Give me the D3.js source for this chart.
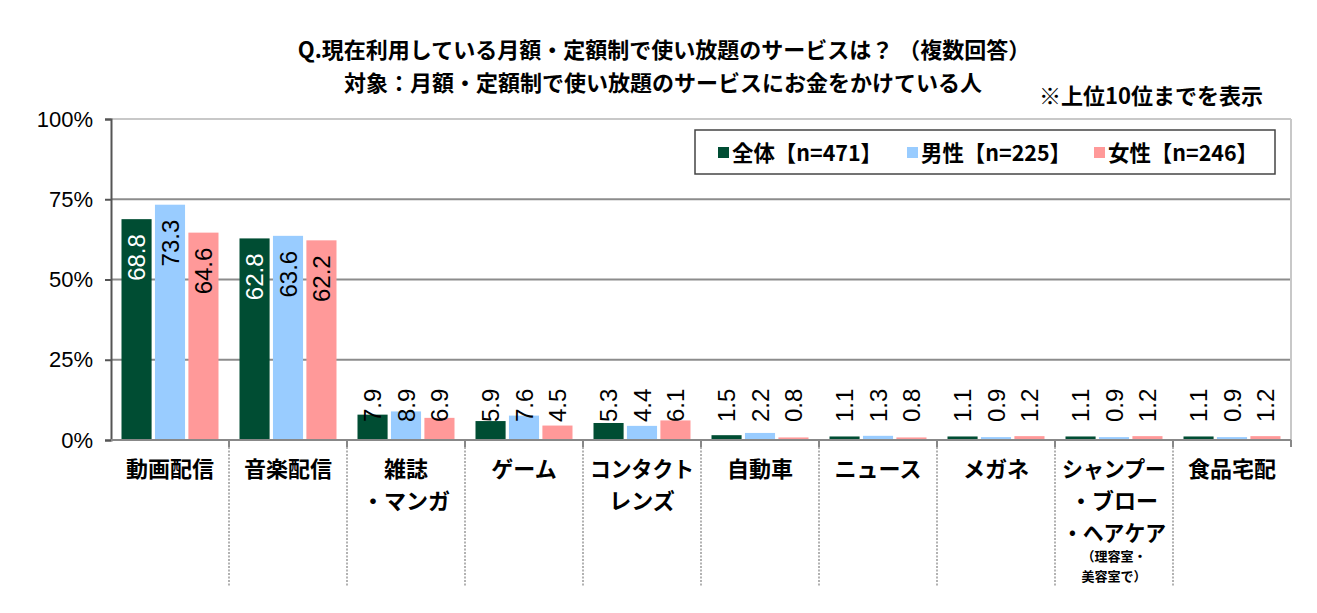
<!DOCTYPE html>
<html>
<head>
<meta charset="utf-8">
<script src="https://cdn.jsdelivr.net/npm/d3@7"></script>
<style>
  body { margin: 0; background: #fff; }
  svg { display: block; }
</style>
</head>
<body>
<svg id="chart"></svg>
<script>
// Data
const categories = ["動画配信", "音楽配信", "雑誌\n・マンガ", "ゲーム", "コンタクト\nレンズ",
  "自動車", "ニュース", "メガネ", "シャンプー\n・ブロー\n・ヘアケア", "食品宅配"];
const categoryNotes = ["", "", "", "", "", "", "", "", "（理容室・\n美容室で）", ""];
const seriesNames = ["全体【n=471】", "男性【n=225】", "女性【n=246】"];
const totalValues = [68.8, 62.8, 7.9, 5.9, 5.3, 1.5, 1.1, 1.1, 1.1, 1.1];
const maleValues = [73.3, 63.6, 8.9, 7.6, 4.4, 2.2, 1.3, 0.9, 0.9, 0.9];
const femaleValues = [64.6, 62.2, 6.9, 4.5, 6.1, 0.8, 0.8, 1.2, 1.2, 1.2];
const yTicks = [0, 25, 50, 75, 100];

const colors = ["#004d33", "#99ccff", "#ff9999"];
const jp = "'Noto Sans CJK JP', sans-serif";
const num = "'Liberation Sans', Arial, sans-serif";

const width = 1317, height = 613;
const margin = { top: 119, right: 26, bottom: 173, left: 111 };

const svg = d3.select("#chart").attr("width", width).attr("height", height);

const series = [totalValues, maleValues, femaleValues];
const rows = categories.map((c, i) => ({
  cat: c,
  vals: series.map((s, j) => ({ key: j, value: s[i] }))
}));

// Scales
const x0 = d3.scaleBand()
  .domain(categories)
  .range([margin.left, width - margin.right])
  .padding(0);

const x1 = d3.scaleBand()
  .domain([0, 1, 2])
  .range([10.5, x0.bandwidth() - 10.5])
  .paddingInner(0.1);

const y = d3.scaleLinear()
  .domain([0, 100])
  .range([height - margin.bottom, margin.top]);

// Gridlines
svg.append("g")
  .selectAll("line")
  .data(yTicks.filter(d => d > 0))
  .join("line")
  .attr("x1", margin.left)
  .attr("x2", width - margin.right)
  .attr("y1", d => y(d))
  .attr("y2", d => y(d))
  .attr("stroke", d => d === 100 ? "#c8c8c8" : "#8c8c8c")
  .attr("stroke-width", 2);

// Right border of plot area
svg.append("line")
  .attr("x1", width - margin.right).attr("x2", width - margin.right)
  .attr("y1", y(100)).attr("y2", y(0))
  .attr("stroke", "#c8c8c8").attr("stroke-width", 2);

// Y axis
const yAxis = svg.append("g")
  .attr("transform", `translate(${margin.left},0)`)
  .call(d3.axisLeft(y).tickValues(yTicks).tickFormat(d => d + "%").tickSize(6).tickPadding(12));
yAxis.select(".domain").attr("stroke", "#555").attr("stroke-width", 2);
yAxis.selectAll(".tick line").attr("stroke", "#555").attr("stroke-width", 2);
yAxis.selectAll("text")
  .attr("font-family", num)
  .attr("font-size", 22)
  .attr("fill", "#000");

// Category separators (dashed) and ticks
const bounds = categories.map(c => x0(c)).concat([width - margin.right]).slice(1);
svg.append("g")
  .selectAll("line")
  .data(bounds.slice(0, -1))
  .join("line")
  .attr("x1", d => d).attr("x2", d => d)
  .attr("y1", y(0)).attr("y2", 587)
  .attr("stroke", "#999")
  .attr("stroke-width", 1.5)
  .attr("stroke-dasharray", "2,1.5");
svg.append("g")
  .selectAll("line")
  .data(bounds)
  .join("line")
  .attr("x1", d => d).attr("x2", d => d)
  .attr("y1", y(0)).attr("y2", y(0) + 7)
  .attr("stroke", "#888")
  .attr("stroke-width", 2);

// Bars
const groups = svg.append("g")
  .selectAll("g")
  .data(rows)
  .join("g")
  .attr("transform", d => `translate(${x0(d.cat)},0)`);

groups.selectAll("rect")
  .data(d => d.vals)
  .join("rect")
  .attr("x", d => x1(d.key))
  .attr("y", d => y(d.value))
  .attr("width", x1.bandwidth())
  .attr("height", d => y(0) - y(d.value))
  .attr("fill", d => colors[d.key]);

// X axis line
svg.append("line")
  .attr("x1", margin.left).attr("x2", width - margin.right)
  .attr("y1", y(0)).attr("y2", y(0))
  .attr("stroke", "#888").attr("stroke-width", 2);

// Value labels (rotated)
groups.selectAll("text.val")
  .data(d => d.vals)
  .join("text")
  .attr("class", "val")
  .attr("transform", d => {
    const cx = x1(d.key) + x1.bandwidth() / 2;
    const inside = d.value >= 20;
    const py = inside ? y(d.value) + 15 : y(0) - 18;
    return `translate(${cx},${py}) rotate(-90)`;
  })
  .attr("text-anchor", d => d.value >= 20 ? "end" : "start")
  .attr("dy", "0.36em")
  .attr("font-family", num)
  .attr("font-size", 24)
  .attr("fill", d => (d.value >= 20 && d.key === 0) ? "#fff" : "#000")
  .text(d => d.value.toFixed(1));

// Category labels
const catLabels = svg.append("g")
  .selectAll("g")
  .data(categories)
  .join("g")
  .attr("transform", c => `translate(${x0(c) + x0.bandwidth() / 2},0)`);

catLabels.each(function (c, i) {
  const g = d3.select(this);
  const lines = c.split("\n");
  lines.forEach((ln, k) => {
    const t = g.append("text")
      .attr("y", 477 + k * 32)
      .attr("text-anchor", "middle")
      .attr("font-family", jp)
      .attr("font-weight", 700)
      .attr("font-size", 22)
      .attr("fill", "#000")
      .text(ln);
    if (t.node().getComputedTextLength() > 104) {
      t.attr("textLength", 104).attr("lengthAdjust", "spacingAndGlyphs");
    }
  });
  const note = categoryNotes[i];
  if (note) {
    note.split("\n").forEach((ln, k) => {
      g.append("text")
        .attr("y", 561 + k * 20)
        .attr("text-anchor", "middle")
        .attr("font-family", jp)
        .attr("font-weight", 700)
        .attr("font-size", 13)
        .attr("fill", "#000")
        .text(ln);
    });
  }
});

// Titles
svg.append("text")
  .attr("x", 664).attr("y", 58)
  .attr("text-anchor", "middle")
  .attr("font-family", jp).attr("font-weight", 700).attr("font-size", 22)
  .text("Q.現在利用している月額・定額制で使い放題のサービスは？ （複数回答）");
svg.append("text")
  .attr("x", 663).attr("y", 91)
  .attr("text-anchor", "middle")
  .attr("font-family", jp).attr("font-weight", 700).attr("font-size", 22)
  .text("対象：月額・定額制で使い放題のサービスにお金をかけている人");
svg.append("text")
  .attr("x", 1263).attr("y", 104)
  .attr("text-anchor", "end")
  .attr("font-family", jp).attr("font-weight", 700).attr("font-size", 22)
  .text("※上位10位までを表示");

// Legend
const legend = svg.append("g");
legend.append("rect")
  .attr("x", 695).attr("y", 130)
  .attr("width", 580).attr("height", 44)
  .attr("fill", "#fff")
  .attr("stroke", "#444").attr("stroke-width", 1.5);
const legendX = [718, 907, 1094];
seriesNames.forEach((name, i) => {
  legend.append("rect")
    .attr("x", legendX[i]).attr("y", 147)
    .attr("width", 11).attr("height", 11)
    .attr("fill", colors[i]);
  legend.append("text")
    .attr("x", legendX[i] + 14).attr("y", 161)
    .attr("font-family", jp).attr("font-weight", 700).attr("font-size", 22)
    .attr("textLength", 150).attr("lengthAdjust", "spacingAndGlyphs")
    .text(name);
});
</script>
</body>
</html>
